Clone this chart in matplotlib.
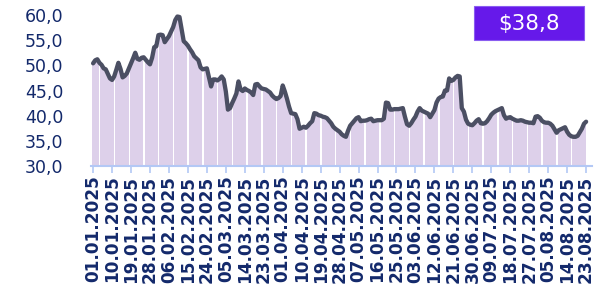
import numpy as np
import pandas as pd
import matplotlib
matplotlib.use('Agg')
import matplotlib.pyplot as plt
from matplotlib.patches import Rectangle

# daily price, 01.01.2025 - 23.08.2025
dates = pd.date_range('2025-01-01', '2025-08-23', freq='D')
values = [
    50.4, 51.0, 51.2, 50.5, 50.1, 49.4, 49.2, 48.3, 47.4, 47.1,
    47.8, 49.1, 50.5, 49.3, 47.6, 47.9, 48.4, 49.4, 50.4, 51.4,
    52.5, 51.3, 51.1, 51.5, 51.6, 51.1, 50.6, 50.2, 51.5, 53.6,
    53.8, 56.0, 56.1, 56.0, 54.6, 55.2, 55.8, 56.7, 57.6, 59.0,
    59.7, 59.6, 57.2, 54.8, 54.4, 53.9, 53.2, 52.6, 51.8, 51.4,
    51.0, 49.6, 49.2, 49.3, 49.4, 47.6, 45.8, 47.2, 47.2, 47.0,
    47.3, 47.8, 47.2, 44.8, 41.2, 41.5, 42.5, 43.4, 44.4, 46.8,
    45.2, 44.9, 45.4, 45.1, 44.9, 44.6, 44.1, 46.2, 46.3, 45.8,
    45.4, 45.3, 45.2, 44.9, 44.6, 44.0, 43.6, 43.3, 43.5, 43.9,
    46.0, 44.8, 43.4, 41.8, 40.5, 40.4, 40.3, 39.3, 37.4, 37.6,
    37.8, 37.6, 38.0, 38.5, 38.9, 40.5, 40.4, 40.1, 40.0, 39.8,
    39.7, 39.5, 39.0, 38.5, 37.8, 37.4, 37.1, 36.8, 36.3, 36.0,
    35.8, 37.0, 38.0, 38.5, 39.0, 39.5, 39.7, 38.9, 39.0, 39.0,
    39.1, 39.3, 39.4, 38.9, 39.0, 39.1, 39.1, 39.1, 39.4, 42.6,
    42.5, 41.2, 41.2, 41.3, 41.3, 41.3, 41.4, 41.5, 39.8, 38.3,
    38.0, 38.5, 39.2, 39.8, 40.8, 41.5, 41.0, 40.8, 40.6, 40.4,
    39.7, 40.4, 41.1, 42.6, 43.4, 43.7, 43.8, 45.0, 45.0, 47.4,
    46.9, 47.1, 47.6, 47.9, 47.8, 41.5, 40.8, 39.2, 38.4, 38.2,
    38.1, 38.5, 39.0, 39.3, 38.5, 38.4, 38.5, 38.9, 39.5, 40.2,
    40.6, 40.9, 41.1, 41.3, 41.5, 40.1, 39.4, 39.6, 39.7, 39.4,
    39.2, 39.0, 39.0, 39.1, 39.0, 38.8, 38.7, 38.6, 38.6, 38.5,
    39.8, 39.9, 39.6, 39.0, 38.7, 38.6, 38.6, 38.4, 38.0, 37.3,
    36.6, 37.1, 37.3, 37.5, 37.7, 36.8, 36.2, 35.9, 35.8, 35.8,
    36.0, 36.7, 37.4, 38.4, 38.8,
]
y_ticks = [30, 35, 40, 45, 50, 55, 60]

navy = '#13296b'
line_col = '#4b4f63'
bar_col = '#ddd0ea'
axis_col = '#b3c8f5'
badge_col = '#6619ea'

x = np.arange(len(dates))
# thin white gap at the weekends
widths = np.where(dates.dayofweek == 5, 0.3, 1.0)

fig = plt.figure(figsize=(6.08, 2.95), dpi=100)
ax = fig.add_axes([91/608, 1 - 166/295, 501/608, 151/295])

ax.bar(x - 0.5, values, width=widths, align='edge', bottom=0,
       color=bar_col, linewidth=0, zorder=1)
ax.plot(x, values, color=line_col, lw=3.1, solid_joinstyle='round',
        solid_capstyle='round', zorder=3, clip_on=False)

ax.set_xlim(-1, 236.8)
ax.set_ylim(30, 60)

ax.set_yticks(y_ticks)
ax.set_yticklabels([f'{v:.1f}'.replace('.', ',') for v in y_ticks])
ax.tick_params(axis='y', length=0, pad=20, labelsize=12.5, labelcolor=navy)

xt = x[::9]
ax.set_xticks(xt)
ax.set_xticklabels([dates[i].strftime('%d.%m.%Y') for i in xt],
                   rotation=90, fontweight='bold', fontsize=12.2, color=navy)
ax.tick_params(axis='x', length=5, width=1.2, color=axis_col, pad=2)

for s in ['top', 'right', 'left']:
    ax.spines[s].set_visible(False)
ax.spines['bottom'].set_color(axis_col)
ax.spines['bottom'].set_linewidth(1.5)
ax.spines['bottom'].set_zorder(4)

# last value badge
fig.patches.append(Rectangle((474/608, 1 - 40/295), 110/608, 34/295,
                             transform=fig.transFigure, facecolor=badge_col,
                             edgecolor='#8a5cf0', linewidth=0.8))
fig.text(529/608, 1 - 24/295, '$' + f'{values[-1]:.1f}'.replace('.', ','),
         color='white', fontsize=15.5, ha='center', va='center')

fig.savefig('out.png', dpi=100)
